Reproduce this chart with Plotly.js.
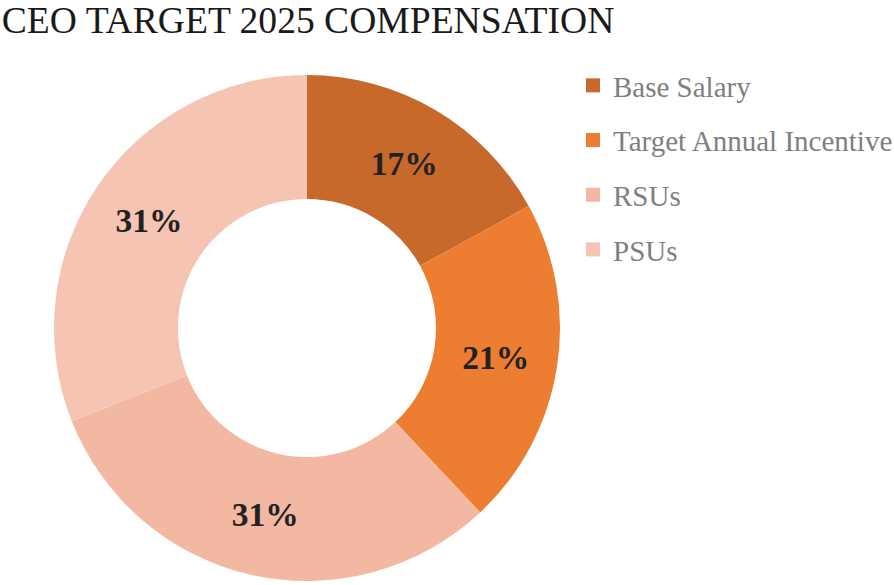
<!DOCTYPE html>
<html>
<head>
<meta charset="utf-8">
<script src="https://cdn.plot.ly/plotly-3.0.1.min.js"></script>
<style>
  html, body { margin: 0; padding: 0; background: #ffffff; }
  #chart { width: 894px; height: 585px; }
</style>
</head>
<body>
<div id="chart"></div>
<script>
// Target pay mix for the CEO, in percent of total target compensation
const components = ['Base Salary', 'Target Annual Incentive', 'RSUs', 'PSUs'];
const shares = [17, 21, 31, 31];
const sliceColors = ['#C6692B', '#ED7D31', '#F3B8A2', '#F5C4B3'];

const serif = 'Times New Roman, Liberation Serif, serif';

// Donut itself; its legend is drawn by the marker-only traces below so the
// rows can be spaced apart.
const donut = {
  type: 'pie',
  labels: components,
  values: shares,
  sort: false,
  direction: 'clockwise',
  rotation: 0,
  hole: 0.51,
  marker: { colors: sliceColors, line: { width: 0 } },
  textinfo: 'percent',
  textposition: 'inside',
  insidetextorientation: 'horizontal',
  textfont: { family: serif, size: 33.5, color: '#222222', weight: 'bold' },
  showlegend: false,
  hoverinfo: 'label+percent',
  domain: { x: [54 / 894, 560 / 894], y: [4 / 585, 510 / 585] }
};

const legendEntries = components.map((name, i) => ({
  type: 'scatter',
  mode: 'markers',
  x: [null],
  y: [null],
  name: name,
  legendgroup: 'g' + i,
  marker: { symbol: 'square', size: 14, color: sliceColors[i] },
  hoverinfo: 'skip'
}));

const layout = {
  width: 894,
  height: 585,
  margin: { l: 0, r: 0, t: 0, b: 0, autoexpand: false },
  paper_bgcolor: '#ffffff',
  plot_bgcolor: '#ffffff',
  font: { family: serif },
  title: {
    text: 'CEO TARGET 2025 COMPENSATION',
    font: { family: serif, size: 37.6, color: '#1a1a1a' },
    x: 0.002,
    xanchor: 'left',
    xref: 'paper',
    y: 1 - 20 / 585,
    yanchor: 'middle',
    yref: 'paper'
  },
  xaxis: { visible: false },
  yaxis: { visible: false },
  showlegend: true,
  legend: {
    x: 573 / 894,
    xanchor: 'left',
    y: 1 - 60 / 585,
    yanchor: 'top',
    font: { family: serif, size: 29, color: '#7F7F7F' },
    tracegroupgap: 14,
    bgcolor: 'rgba(0,0,0,0)'
  }
};

Plotly.newPlot('chart', [donut].concat(legendEntries), layout, { displayModeBar: false });
</script>
</body>
</html>
